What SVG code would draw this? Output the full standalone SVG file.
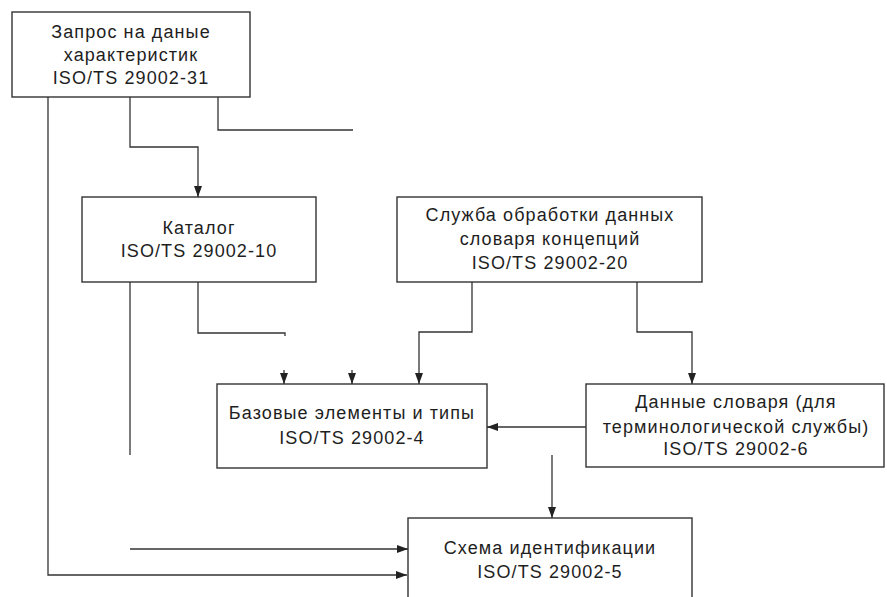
<svg xmlns="http://www.w3.org/2000/svg" width="887" height="597" viewBox="0 0 887 597">
<style>
.box{fill:#fff;stroke:#333;stroke-width:1.4}
.t{font-family:"Liberation Sans",Arial,sans-serif;font-size:18px;letter-spacing:1.1px;fill:#1e1e1e;text-anchor:middle}
.c{fill:none;stroke:#333;stroke-width:1.3}
</style>
<defs>
<marker id="ah" markerUnits="userSpaceOnUse" markerWidth="11" markerHeight="9" refX="11" refY="4.5" orient="auto">
<path d="M0,0.5 L11,4.5 L0,8.5 z" fill="#222"/>
</marker>
</defs>
<rect width="887" height="597" fill="#fff"/>
<g id="n1">
<rect class="box" x="12" y="12" width="238" height="85"/>
<text class="t" x="131" y="38">Запрос на даные</text>
<text class="t" x="131" y="61">характеристик</text>
<text class="t" x="131" y="84">ISO/TS 29002-31</text>
</g>
<g id="n2">
<rect class="box" x="82" y="197" width="234" height="85"/>
<text class="t" x="199" y="234">Каталог</text>
<text class="t" x="199" y="257">ISO/TS 29002-10</text>
</g>
<g id="n3">
<rect class="box" x="397" y="197" width="305" height="85"/>
<text class="t" x="550" y="221">Служба обработки данных</text>
<text class="t" x="550" y="245">словаря концепций</text>
<text class="t" x="550" y="269">ISO/TS 29002-20</text>
</g>
<g id="n4">
<rect class="box" x="217" y="384" width="270" height="84"/>
<text class="t" x="352" y="419">Базовые элементы и типы</text>
<text class="t" x="352" y="444">ISO/TS 29002-4</text>
</g>
<g id="n5">
<rect class="box" x="586" y="384" width="298" height="83"/>
<text class="t" x="736" y="408">Данные словаря (для</text>
<text class="t" x="736" y="433">терминологической службы)</text>
<text class="t" x="736" y="455">ISO/TS 29002-6</text>
</g>
<g id="n6">
<rect class="box" x="408" y="518" width="284" height="90"/>
<text class="t" x="550" y="554">Схема идентификации</text>
<text class="t" x="550" y="578">ISO/TS 29002-5</text>
</g>
<g id="connectors">
<polyline class="c" points="48,97 48,575 407,575" marker-end="url(#ah)"/>
<polyline class="c" points="130,97 130,147 198,147 198,197" marker-end="url(#ah)"/>
<polyline class="c" points="218,97 218,130 353,130"/>
<polyline class="c" points="130,282 130,455"/>
<polyline class="c" points="198,282 198,333 285,333 285,336"/>
<line class="c" x1="284" y1="370" x2="284" y2="384" marker-end="url(#ah)"/>
<line class="c" x1="352" y1="370" x2="352" y2="384" marker-end="url(#ah)"/>
<polyline class="c" points="472,282 472,332 419,332 419,384" marker-end="url(#ah)"/>
<polyline class="c" points="637,282 637,332 692,332 692,384" marker-end="url(#ah)"/>
<line class="c" x1="586" y1="427" x2="487" y2="427" marker-end="url(#ah)"/>
<line class="c" x1="552" y1="455" x2="552" y2="518" marker-end="url(#ah)"/>
<line class="c" x1="130" y1="549" x2="408" y2="549" marker-end="url(#ah)"/>
</g>
</svg>
